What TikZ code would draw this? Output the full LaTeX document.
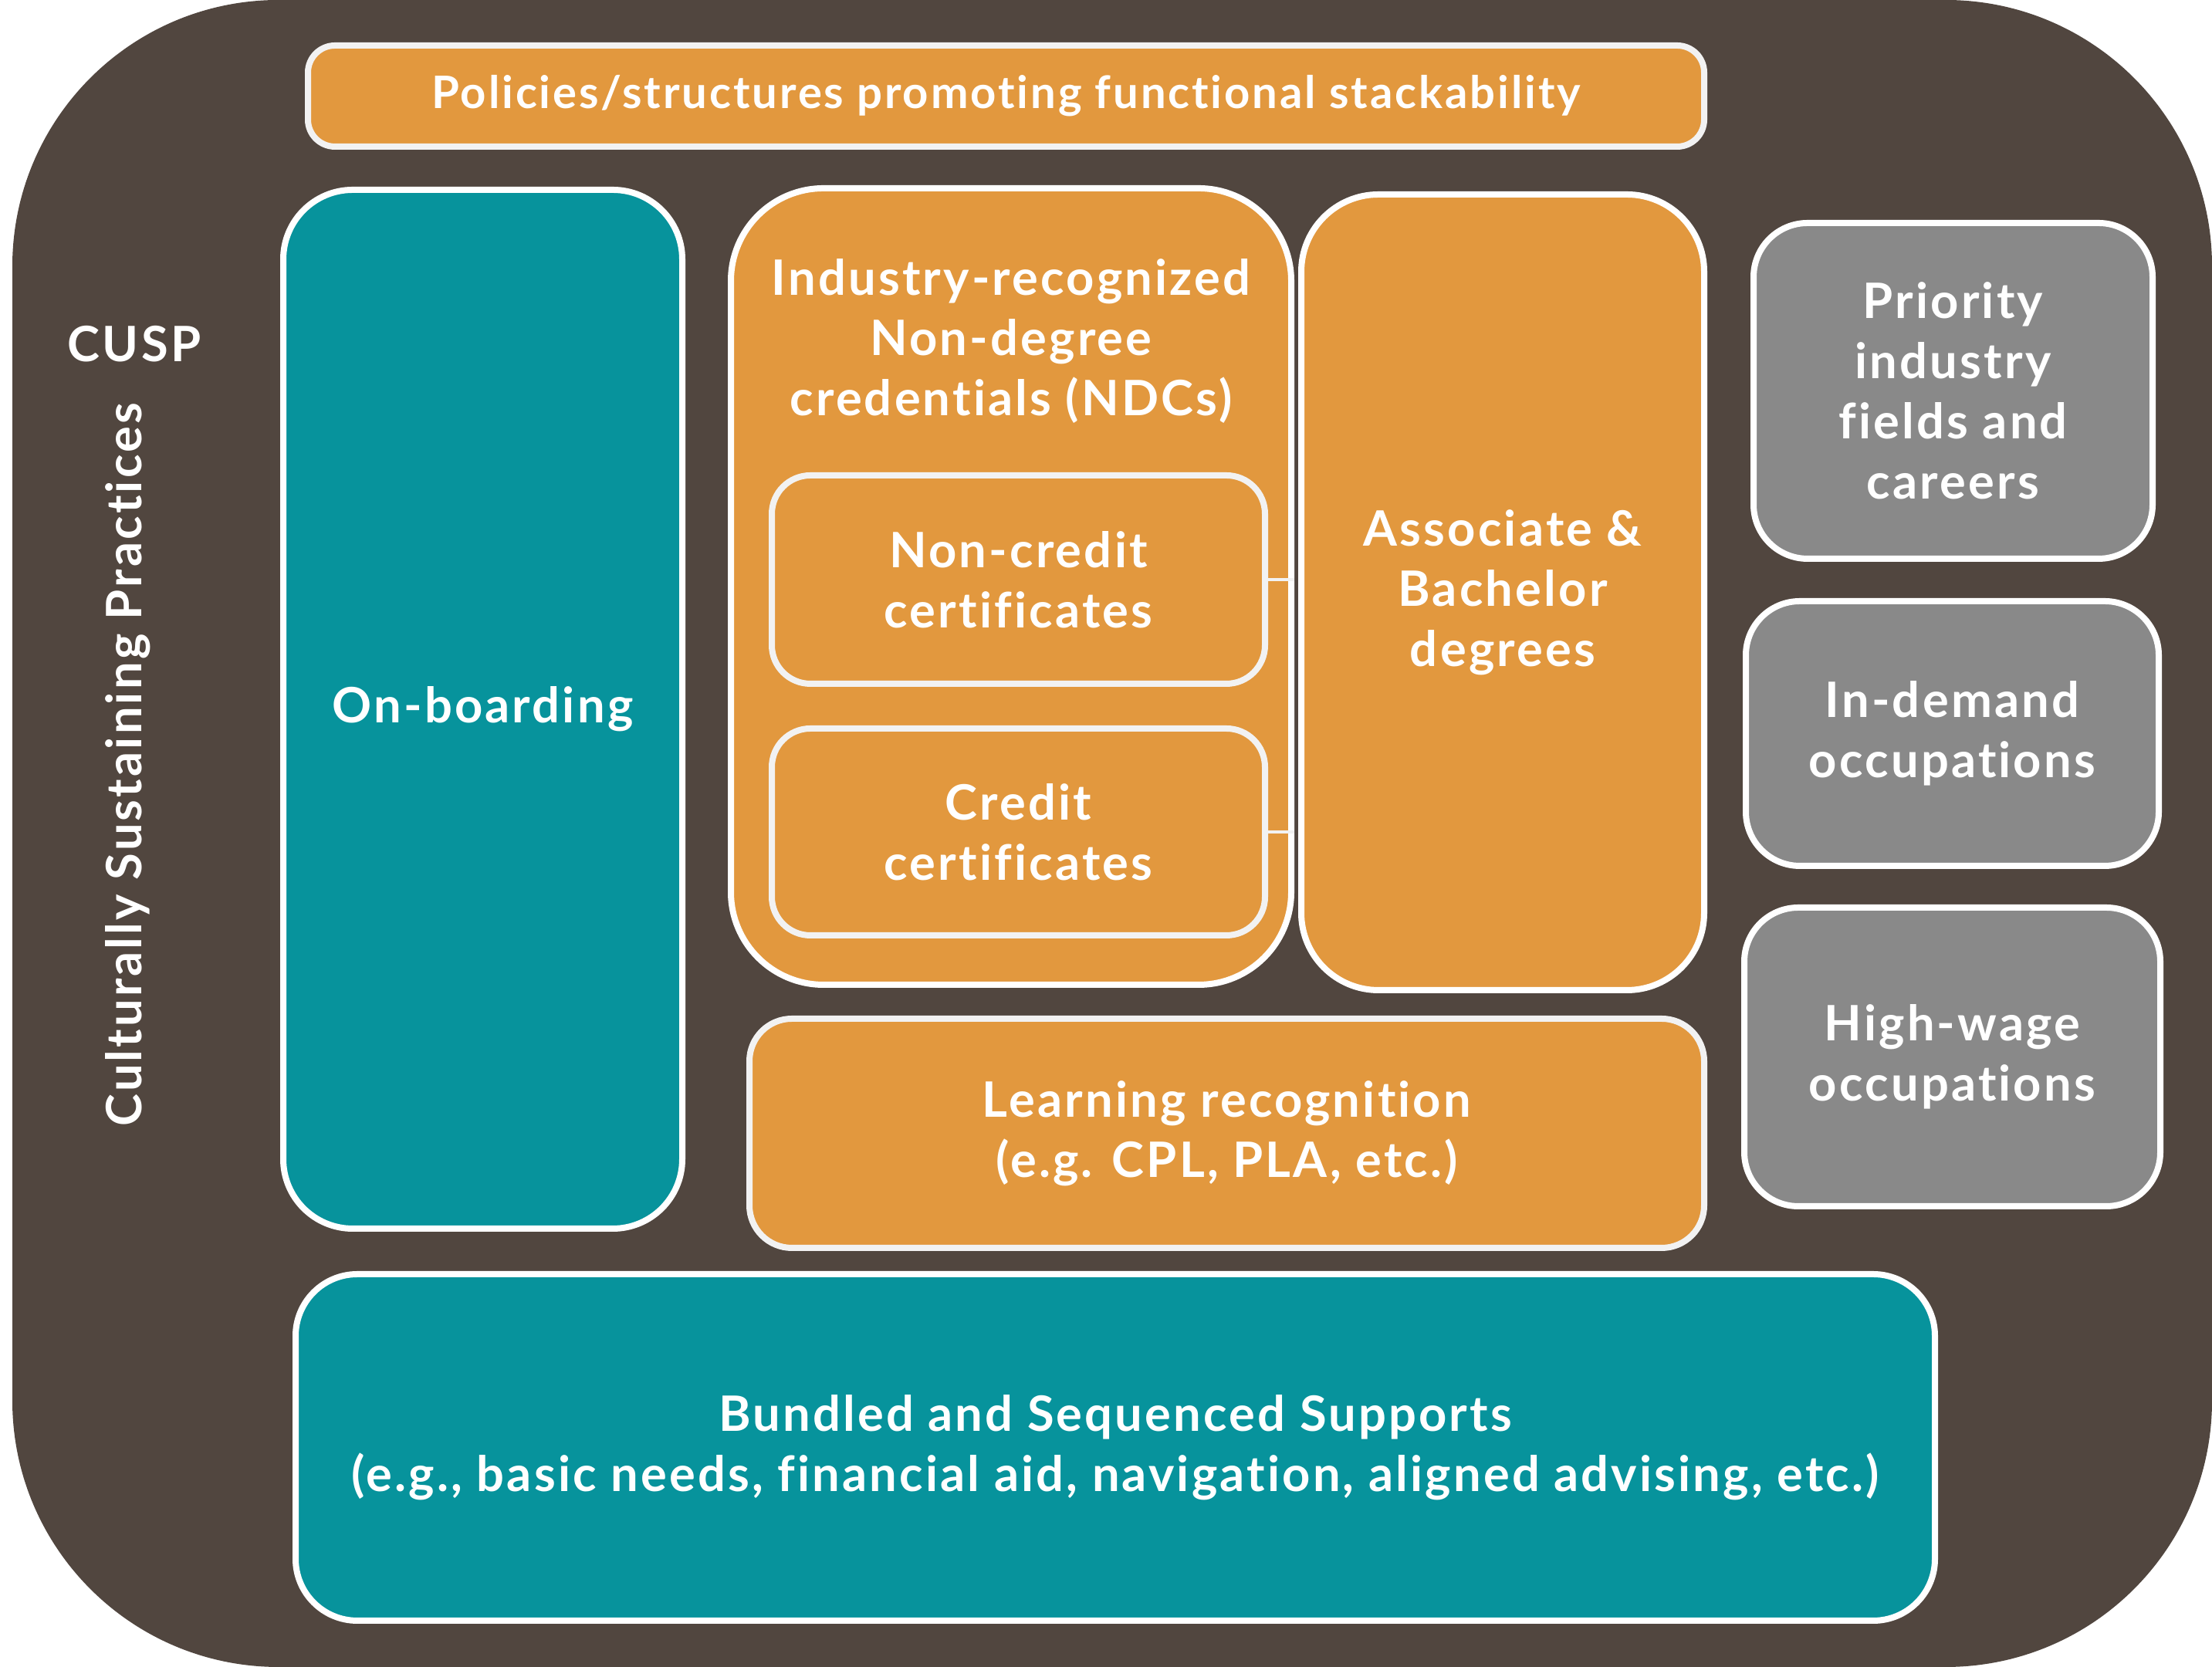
\documentclass[tikz,border=0pt]{standalone}
\usepackage{fontspec}
\setmainfont{Lato}[Ligatures=NoCommon, LetterSpace=5]
\usepackage{tikz}
\usetikzlibrary{positioning}
\definecolor{framebrown}{RGB}{81,70,63}
\definecolor{ndcorange}{RGB}{226,152,62}
\definecolor{supportteal}{RGB}{7,147,156}
\definecolor{fieldgray}{RGB}{137,137,137}
\definecolor{edgewhite}{RGB}{242,242,242}

\begin{document}
\begin{tikzpicture}[
    box/.style={draw=white, line width=0.08cm, align=center, text=white, inner sep=0pt, font=\bfseries\fontsize{18}{22.2}\selectfont},
    orangebox/.style={box, fill=ndcorange},
    innerbox/.style={orangebox, draw=edgewhite, rounded corners=0.5cm},
    tealbox/.style={box, fill=supportteal},
    graybox/.style={box, fill=fieldgray, rounded corners=0.7cm},
    caption/.style={text=white, align=center, inner sep=0pt, font=\bfseries\fontsize{18}{22.2}\selectfont},
    link/.style={draw=edgewhite, line width=0.045cm}
]
    \useasboundingbox (0,0) rectangle (28.66,21.6);

    % CUSP frame
    \fill[framebrown, rounded corners=3.45cm] (0.16,0) rectangle (28.66,21.6);
    \node[caption] (cusp) at (1.74,17.14) {CUSP};
    \node[caption, rotate=90] (csp) at (1.66,11.69) {Culturally Sustaining Practices};

    % Top bar
    \node[orangebox, draw=edgewhite, rounded corners=0.35cm, minimum width=18.09cm, minimum height=1.31cm,
          font=\bfseries\fontsize{16.5}{20}\selectfont] (policies) at (13.035,20.355) {Policies/structures promoting functional stackability};

    % Left column
    \node[tealbox, rounded corners=0.9cm, minimum width=5.17cm, minimum height=13.46cm] (onboard) at (6.255,12.41) {On-boarding};

    % Credentials
    \node[orangebox, rounded corners=1.2cm, minimum width=7.26cm, minimum height=10.32cm] (ndc) at (13.10,14.0) {};
    \node[caption, below=0.95cm of ndc.north] (ndctitle) {Industry-recognized\\Non-degree\\credentials (NDCs)};
    \node[innerbox, minimum width=6.39cm, minimum height=2.70cm] (noncred) at (13.195,14.09) {Non-credit\\certificates};
    \node[innerbox, minimum width=6.39cm, minimum height=2.68cm] (cred) at (13.195,10.82) {Credit\\certificates};
    \node[orangebox, rounded corners=1.0cm, minimum width=5.22cm, minimum height=10.31cm] (assoc) at (19.47,13.925) {Associate \&\\Bachelor\\degrees};
    \node[orangebox, draw=edgewhite, rounded corners=0.55cm, minimum width=12.37cm, minimum height=2.97cm] (learn) at (15.895,6.915) {Learning recognition\\(e.g. CPL, PLA, etc.)};

    % Ticks to the NDC border
    \draw[link] (noncred.east) -- (noncred.east -| ndc.east);
    \draw[link] (cred.east) -- (cred.east -| ndc.east);

    % Labour market
    \node[graybox, minimum width=5.17cm, minimum height=4.35cm] (priority) at (25.305,16.535) {Priority\\industry\\fields and\\careers};
    \node[graybox, minimum width=5.35cm, minimum height=3.43cm] (indemand) at (25.295,12.095) {In-demand\\occupations};
    \node[graybox, minimum width=5.39cm, minimum height=3.87cm] (highwage) at (25.295,7.905) {High-wage\\occupations};

    % Supports
    \node[tealbox, rounded corners=0.8cm, minimum width=21.24cm, minimum height=4.49cm] (bundled) at (14.45,2.845) {Bundled and Sequenced Supports\\(e.g., basic needs, financial aid, navigation, aligned advising, etc.)};
\end{tikzpicture}
\end{document}
